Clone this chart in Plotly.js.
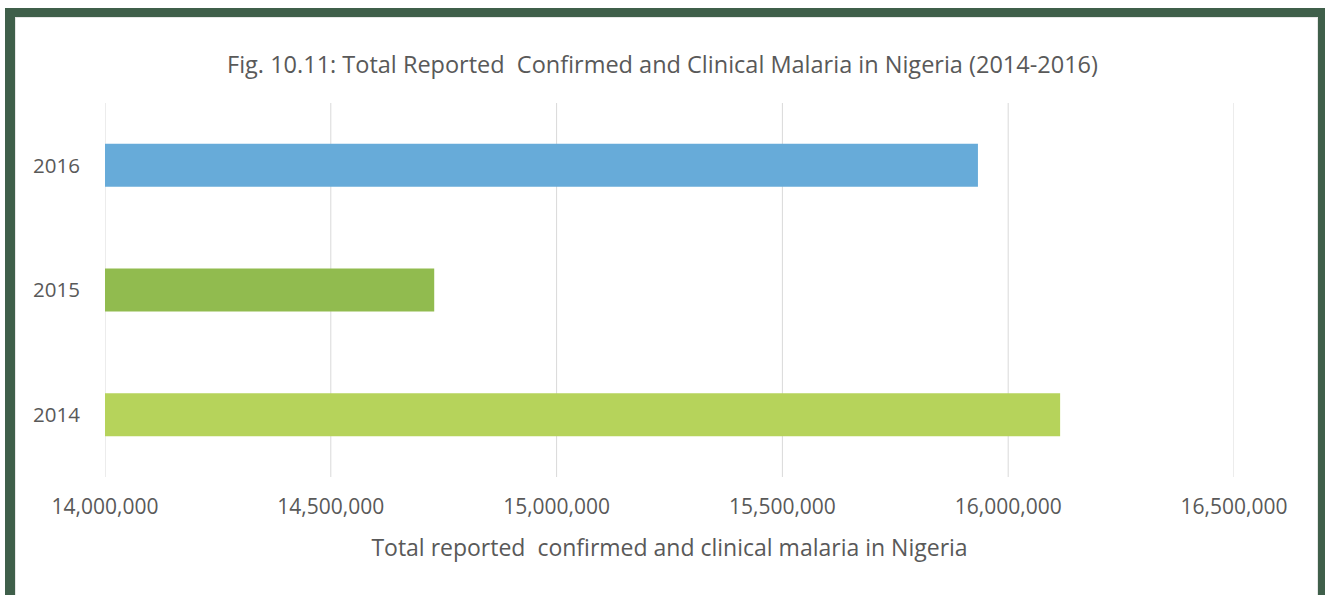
<!DOCTYPE html>
<html>
<head>
<meta charset="utf-8">
<script src="https://cdn.plot.ly/plotly-3.0.1.min.js"></script>
<style>
  html, body { margin: 0; padding: 0; background: #ffffff; }
  #frame { position: absolute; left: 5px; top: 8px; width: 1320px; height: 600px; background: #3f5f4a; }
  #inner { position: absolute; left: 15px; top: 17px; width: 1303px; height: 590px; background: #ffffff; box-shadow: inset 0 0 0 1px #e6e6e6; }
  #chart { position: absolute; left: 0; top: 0; width: 1325px; height: 595px; }
</style>
</head>
<body>
<div id="frame"></div>
<div id="inner"></div>
<div id="chart"></div>
<script>
const years = ["2014", "2015", "2016"];
const cases = [16115000, 14729000, 15933000];
const barColors = ["#b6d35b", "#91bb4f", "#67abd9"];
const xTickValues = [14000000, 14500000, 15000000, 15500000, 16000000, 16500000];
const xTickLabels = ["14,000,000", "14,500,000", "15,000,000", "15,500,000", "16,000,000", "16,500,000"];

const textColor = "#595959";
const gridColor = "#d9d9d9";
const fontFamily = "'Open Sans', 'DejaVu Sans', sans-serif";

const data = [{
  type: "bar",
  orientation: "h",
  y: years,
  x: cases,
  base: 0,
  marker: { color: barColors, line: { width: 0 } },
  hoverinfo: "x+y"
}];

// explicit gridlines for every tick (Plotly hides gridlines lying on the plot edges)
const gridShapes = xTickValues.map(v => ({
  type: "line", layer: "below",
  xref: "x", yref: "paper",
  x0: v, x1: v, y0: 0, y1: 1,
  line: { color: gridColor, width: 1 }
}));

const layout = {
  width: 1325,
  height: 595,
  paper_bgcolor: "rgba(0,0,0,0)",
  plot_bgcolor: "rgba(0,0,0,0)",
  margin: { l: 105, r: 91, t: 103, b: 118 },
  showlegend: false,
  bargap: 0.655,
  font: { family: fontFamily, color: textColor, size: 20 },
  title: {
    text: "Fig. 10.11: Total Reported  Confirmed and Clinical Malaria in Nigeria (2014-2016)",
    font: { family: fontFamily, size: 23.5, color: textColor },
    x: 0.5, xanchor: "center", xref: "container",
    y: 1 - 65 / 595, yanchor: "middle", yref: "container"
  },
  shapes: gridShapes,
  xaxis: {
    range: [14000000, 16500000],
    tickvals: xTickValues,
    ticktext: xTickLabels,
    showgrid: false,
    zeroline: false,
    showline: false,
    ticks: "",
    ticklabelstandoff: 15,
    tickfont: { size: 21, color: textColor, family: fontFamily },
    title: {
      text: "Total reported  confirmed and clinical malaria in Nigeria",
      font: { size: 23, color: textColor, family: fontFamily },
      standoff: 20
    },
    fixedrange: true
  },
  yaxis: {
    type: "category",
    categoryorder: "array",
    categoryarray: years,
    range: [-0.5, 2.5],
    showgrid: false,
    zeroline: false,
    showline: false,
    ticks: "",
    ticklabelstandoff: 24,
    tickfont: { size: 20.5, color: textColor, family: fontFamily },
    fixedrange: true
  }
};

Plotly.newPlot("chart", data, layout, { displayModeBar: false, staticPlot: true });
</script>
</body>
</html>
